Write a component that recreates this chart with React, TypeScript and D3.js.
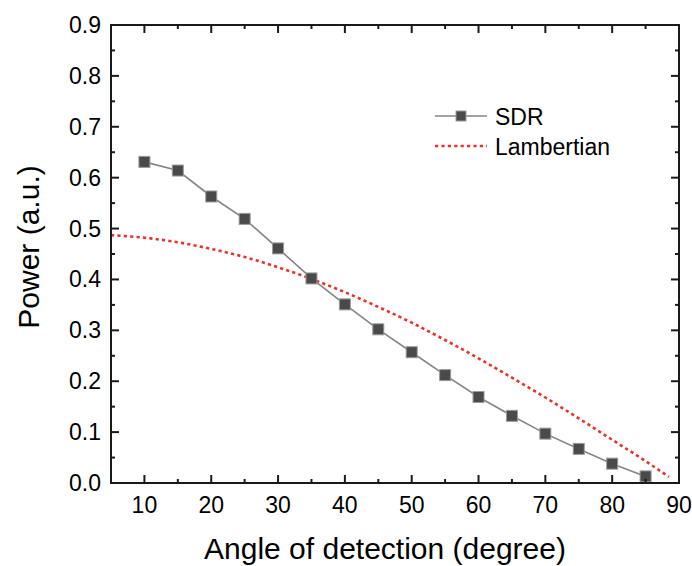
import React from "react";
import * as d3 from "d3";

const sdrAngles = [10, 15, 20, 25, 30, 35, 40, 45, 50, 55, 60, 65, 70, 75, 80, 85];
const sdrPower = [0.631, 0.614, 0.563, 0.519, 0.461, 0.402, 0.351, 0.302, 0.257, 0.212, 0.169, 0.132, 0.097, 0.067, 0.038, 0.013];

const lambAngles = [5, 10, 15, 20, 25, 30, 35, 40, 45, 50, 55, 60, 65, 70, 75, 80, 85, 88.5];
const lambPower = [0.487, 0.482, 0.473, 0.46, 0.444, 0.424, 0.401, 0.375, 0.346, 0.315, 0.281, 0.245, 0.207, 0.168, 0.127, 0.085, 0.043, 0.012];

const xTicks = [10, 20, 30, 40, 50, 60, 70, 80, 90];
const yTicks = [0, 0.1, 0.2, 0.3, 0.4, 0.5, 0.6, 0.7, 0.8, 0.9];

const W = 692, H = 566;
const L = 111, R = 679, T = 25, B = 483;

export default function App() {
  const x = d3.scaleLinear().domain([5, 90]).range([L, R]);
  const y = d3.scaleLinear().domain([0, 0.9]).range([B, T]);
  const sdr = sdrAngles.map((a, i) => [a, sdrPower[i]] as [number, number]);
  const lamb = lambAngles.map((a, i) => [a, lambPower[i]] as [number, number]);
  const line = d3.line<[number, number]>().x(d => x(d[0])).y(d => y(d[1]));
  const curve = d3.line<[number, number]>().x(d => x(d[0])).y(d => y(d[1])).curve(d3.curveMonotoneX);
  const xMinor = d3.range(5, 91, 5).filter(v => v % 10 !== 0);
  const yMinor = d3.range(0.05, 0.9, 0.1);
  const font = "'Liberation Sans', Arial, sans-serif";
  const ax = "#1a1a1a";
  return (
    <svg width={W} height={H} style={{ position: "absolute", left: 0, top: 0, background: "#fff" }} fontFamily={font}>
      {/* data */}
      <path d={curve(lamb) || ""} fill="none" stroke="#e8322b" strokeWidth={2.6} strokeDasharray="3.2 3.2" />
      <path d={line(sdr) || ""} fill="none" stroke="#858585" strokeWidth={1.6} />
      {sdr.map((d, i) => (
        <rect key={i} x={x(d[0]) - 5.5} y={y(d[1]) - 5.5} width={11} height={11} fill="#4a4a4a" stroke="#9a9a9a" strokeWidth={1} />
      ))}
      {/* frame */}
      <rect x={L} y={T} width={R - L} height={B - T} fill="none" stroke={ax} strokeWidth={2} />
      {xTicks.map(v => (
        <g key={"x" + v}>
          <line x1={x(v)} x2={x(v)} y1={B} y2={B - 8} stroke={ax} strokeWidth={2} />
          <line x1={x(v)} x2={x(v)} y1={T} y2={T + 8} stroke={ax} strokeWidth={2} />
          <text x={x(v)} y={513} textAnchor="middle" fontSize={23} fill="#000">{v}</text>
        </g>
      ))}
      {xMinor.map(v => (
        <g key={"xm" + v}>
          <line x1={x(v)} x2={x(v)} y1={B} y2={B - 4} stroke={ax} strokeWidth={2} />
          <line x1={x(v)} x2={x(v)} y1={T} y2={T + 4} stroke={ax} strokeWidth={2} />
        </g>
      ))}
      {yTicks.map(v => (
        <g key={"y" + v}>
          <line x1={L} x2={L + 8} y1={y(v)} y2={y(v)} stroke={ax} strokeWidth={2} />
          <line x1={R} x2={R - 8} y1={y(v)} y2={y(v)} stroke={ax} strokeWidth={2} />
          <text x={101} y={y(v) + 8} textAnchor="end" fontSize={23} fill="#000">{v.toFixed(1)}</text>
        </g>
      ))}
      {yMinor.map(v => (
        <g key={"ym" + v}>
          <line x1={L} x2={L + 4} y1={y(v)} y2={y(v)} stroke={ax} strokeWidth={2} />
          <line x1={R} x2={R - 4} y1={y(v)} y2={y(v)} stroke={ax} strokeWidth={2} />
        </g>
      ))}
      {/* titles */}
      <text x={385} y={559} textAnchor="middle" fontSize={30} fill="#000">Angle of detection (degree)</text>
      <text transform={`translate(39, 247) rotate(-90)`} textAnchor="middle" fontSize={30} fill="#000">Power (a.u.)</text>
      {/* legend */}
      <line x1={435} x2={487} y1={116} y2={116} stroke="#858585" strokeWidth={1.6} />
      <rect x={456} y={111} width={10} height={10} fill="#4a4a4a" stroke="#9a9a9a" strokeWidth={1} />
      <text x={495} y={125} fontSize={23} fill="#000">SDR</text>
      <line x1={435} x2={487} y1={146} y2={146} stroke="#e8322b" strokeWidth={2.6} strokeDasharray="3.2 3.2" />
      <text x={495} y={155} fontSize={23} fill="#000">Lambertian</text>
    </svg>
  );
}
